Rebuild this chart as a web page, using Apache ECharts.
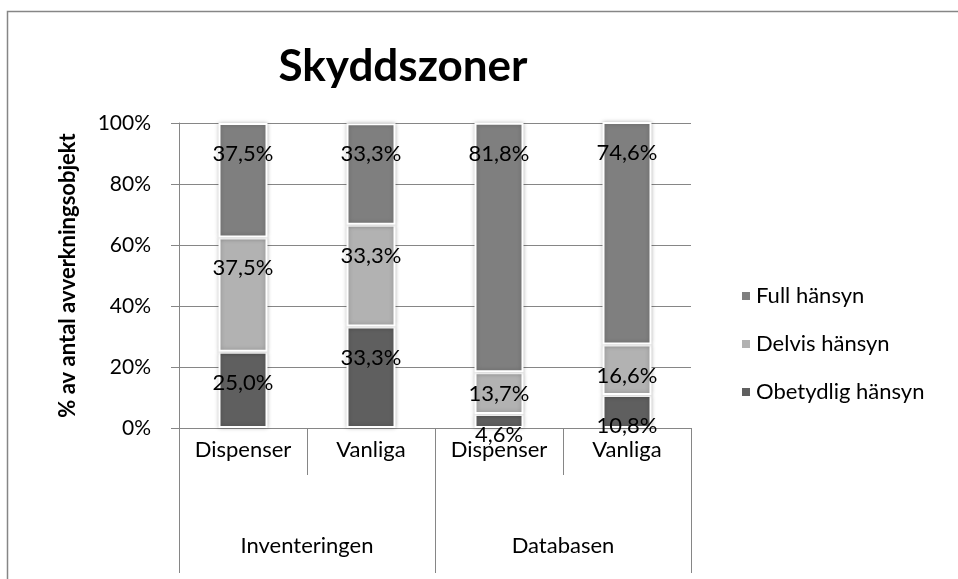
<!DOCTYPE html>
<html>
<head>
<meta charset="utf-8">
<script src="https://cdn.jsdelivr.net/npm/echarts@6/dist/echarts.min.js"></script>
<style>
  html, body { margin: 0; padding: 0; background: #fff; }
  #chart { width: 958px; height: 579px; }
</style>
</head>
<body>
<div id="chart"></div>
<script>
let subCategories = ["Dispenser", "Vanliga", "Dispenser", "Vanliga"]
let groupCategories = ["Inventeringen", "Databasen"]
let seriesNames = ["Obetydlig hänsyn", "Delvis hänsyn", "Full hänsyn"]
let obetydlig = [25.0, 33.3, 4.6, 10.8]
let delvis = [37.5, 33.3, 13.7, 16.6]
let full = [37.5, 33.3, 81.8, 74.6]
let yTicks = [0, 20, 40, 60, 80, 100]

let font = "Lato"
let lineGray = "#868686"
let colors = ["#5f5f5f", "#b2b2b2", "#7f7f7f"]

// label placement tweaks for the small Databasen/Dispenser segments
let labelDistance = [
    [20, 20, 10, 20],
    [20, 20, 11, 20],
    [20, 20, 20, 20]
]

function makeSeries(name, values, idx) {
    return {
        name: name,
        type: "bar",
        stack: "total",
        barWidth: 49,
        xAxisIndex: 0,
        data: values.map((v, i) => ({
            value: v,
            label: { distance: labelDistance[idx][i] }
        })),
        itemStyle: {
            color: colors[idx],
            borderColor: "#ffffff",
            borderWidth: 2,
            shadowBlur: 4,
            shadowColor: "rgba(0,0,0,0.25)"
        },
        label: {
            show: true,
            position: "insideTop",
            color: "#000",
            fontFamily: font,
            fontSize: 22,
            formatter: p => p.value.toFixed(1).replace(".", ",") + "%"
        }
    }
}

let chartDom = document.getElementById("chart")
let myChart = echarts.init(chartDom)

let option = {
    animation: false,
    title: {
        text: "Skyddszoner",
        left: 398,
        top: 40,
        textAlign: "center",
        textStyle: { fontFamily: font, fontSize: 44, fontWeight: "bold", color: "#000" }
    },
    legend: {
        orient: "vertical",
        left: 735,
        top: 280,
        itemGap: 26,
        itemWidth: 10,
        itemHeight: 10,
        icon: "rect",
        data: ["Full hänsyn", "Delvis hänsyn", "Obetydlig hänsyn"],
        textStyle: { fontFamily: font, fontSize: 22, color: "#000" }
    },
    graphic: [{
        type: "rect",
        shape: { x: 7.5, y: 11.5, width: 960, height: 580 },
        style: { fill: "none", stroke: lineGray, lineWidth: 1.5 }
    }],
    grid: { left: 179, right: 267, top: 123, bottom: 151, containLabel: false },
    xAxis: [
        {
            type: "category",
            data: subCategories,
            position: "bottom",
            axisLine: { show: true, lineStyle: { color: lineGray } },
            axisTick: { show: true, interval: 0, length: 47, lineStyle: { color: lineGray } },
            axisLabel: { interval: 0, margin: 11, fontFamily: font, fontSize: 22, color: "#000" }
        },
        {
            type: "category",
            data: groupCategories,
            position: "bottom",
            axisLine: { show: false },
            axisTick: { show: true, interval: 0, length: 145, lineStyle: { color: lineGray } },
            axisLabel: { interval: 0, margin: 107, fontFamily: font, fontSize: 22, color: "#000" }
        }
    ],
    yAxis: {
        type: "value",
        min: yTicks[0],
        max: yTicks[yTicks.length - 1],
        interval: 20,
        name: "% av antal avverkningsobjekt",
        nameLocation: "middle",
        nameGap: 100,
        nameTextStyle: { fontFamily: font, fontSize: 22, fontWeight: "bold", color: "#000" },
        axisLine: { show: true, lineStyle: { color: lineGray } },
        axisTick: { show: true, length: 8, lineStyle: { color: lineGray } },
        splitLine: { show: true, lineStyle: { color: lineGray } },
        axisLabel: { margin: 28, fontFamily: font, fontSize: 21, color: "#000", formatter: "{value}%" }
    },
    series: [
        makeSeries(seriesNames[0], obetydlig, 0),
        makeSeries(seriesNames[1], delvis, 1),
        makeSeries(seriesNames[2], full, 2)
    ]
}

option && myChart.setOption(option)
</script>
</body>
</html>
